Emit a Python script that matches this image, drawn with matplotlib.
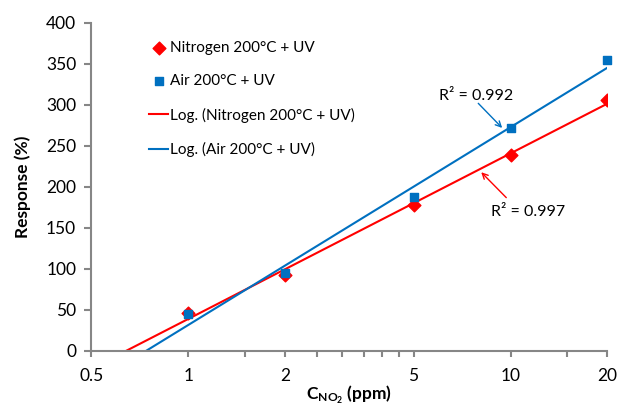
import numpy as np
import matplotlib
matplotlib.use("Agg")
import matplotlib.pyplot as plt

plt.rcParams['font.family'] = ['Lato', 'DejaVu Sans']
plt.rcParams['mathtext.fontset'] = 'custom'
plt.rcParams['mathtext.rm'] = 'Lato'
plt.rcParams['mathtext.bf'] = 'Lato:bold'

conc = [1, 2, 5, 10, 20]  # ppm NO2
resp_n2 = [46, 93, 178, 239, 306]  # Nitrogen 200C + UV
resp_air = [45, 95, 188, 272, 355]  # Air 200C + UV
r2_n2 = 0.997
r2_air = 0.992

xticks = [0.5, 1, 2, 5, 10, 20]
xticklabels = ["0.5", "1", "2", "5", "10", "20"]
xminor = [1.5, 2.5, 3, 3.5, 4, 4.5, 15]

red = '#FF0000'
blue = '#0070C0'
grey = '#868686'

fig = plt.figure(figsize=(6.18, 4.07), dpi=100)
ax = fig.add_axes([0.148, 0.1376, 0.835, 0.806])

# log trendlines (Excel style: y = a*ln(x) + b)
xx = np.logspace(np.log10(0.5), np.log10(20), 200)
a_n, b_n = np.polyfit(np.log(conc), resp_n2, 1)
a_a, b_a = np.polyfit(np.log(conc), resp_air, 1)

ax.scatter(conc, resp_n2, marker='D', s=42, color=red, zorder=3, label='Nitrogen 200°C + UV')
ax.scatter(conc, resp_air, marker='s', s=30, color=blue, zorder=4, label='Air 200°C + UV', clip_on=False)
ax.plot(xx, a_n * np.log(xx) + b_n, color=red, lw=1.5, label='Log. (Nitrogen 200°C + UV)')
ax.plot(xx, a_a * np.log(xx) + b_a, color=blue, lw=1.5, label='Log. (Air 200°C + UV)')

ax.set_xscale('log')
ax.set_xlim(0.5, 20)
ax.set_ylim(0, 400)
ax.set_xticks(xticks)
ax.set_xticklabels(xticklabels)
ax.set_xticks(xminor, minor=True)
ax.set_xticklabels([], minor=True)
ax.set_yticks(np.arange(0, 401, 50))

for s in ['top', 'right']:
    ax.spines[s].set_visible(False)
for s in ['left', 'bottom']:
    ax.spines[s].set_color(grey)
    ax.spines[s].set_linewidth(1.5)
ax.tick_params(axis='both', which='both', color=grey, width=1.5, labelsize=12.5)
ax.tick_params(axis='y', length=5, pad=6)
ax.tick_params(axis='x', which='both', length=4, pad=8)

ax.set_ylabel('Response (%)', fontsize=12.5, fontweight='bold', labelpad=11)
ax.set_xlabel(r'$\mathbf{C_{NO_2}}$ (ppm)', fontsize=12.5, fontweight='bold', labelpad=0)

ax.text(7.8, 311, f'R² = {r2_air}', fontsize=11.5, ha='center', va='center')
ax.annotate('', xy=(9.42, 272), xytext=(7.94, 302),
            arrowprops=dict(arrowstyle='->', color=blue, lw=1, shrinkA=0, shrinkB=0))
ax.text(11.3, 169, f'R² = {r2_n2}', fontsize=11.5, ha='center', va='center')
ax.annotate('', xy=(8.11, 218), xytext=(9.7, 187),
            arrowprops=dict(arrowstyle='->', color=red, lw=1, shrinkA=0, shrinkB=0))

ax.legend(loc='upper left', bbox_to_anchor=(0.1, 0.965), frameon=False, fontsize=11,
          labelspacing=1.28, handlelength=1.25, handletextpad=0.1, borderaxespad=0)

fig.savefig('out.png', dpi=100)
